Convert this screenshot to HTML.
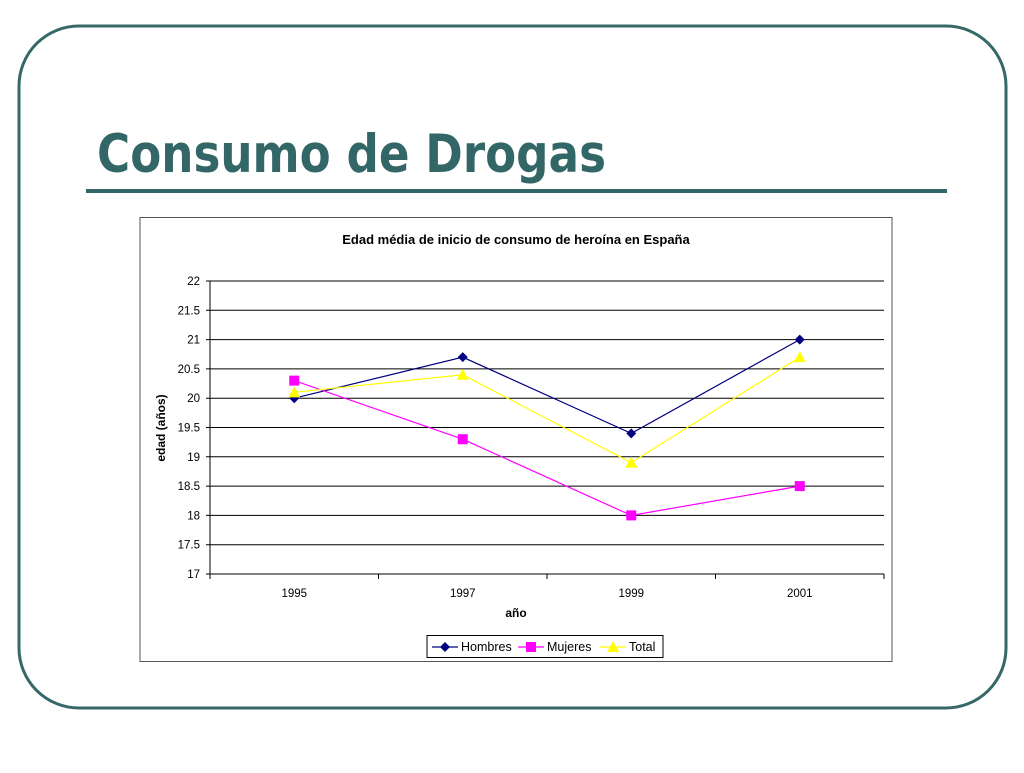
<!DOCTYPE html>
<html><head><meta charset="utf-8"><style>
body{margin:0;width:1024px;height:768px;background:#fff;overflow:hidden;font-family:"Liberation Sans",sans-serif}
</style></head><body>
<svg width="1024" height="768">
<rect x="19" y="26" width="987" height="682" rx="60" fill="none" stroke="#366868" stroke-width="3"/>
<text x="97" y="172" font-size="53" font-weight="bold" fill="#336666" font-family="DejaVu Sans, sans-serif" textLength="509" lengthAdjust="spacingAndGlyphs">Consumo de Drogas</text>
<rect x="86" y="189" width="861" height="4" fill="#336666"/>
<rect x="140" y="217.5" width="752" height="444" fill="#fff" stroke="#555" stroke-width="1"/>
<text x="516" y="244" font-size="13" font-weight="bold" text-anchor="middle">Edad média de inicio de consumo de heroína en España</text>
<g id="plot"></g>
<text x="516" y="617" font-size="12" font-weight="bold" text-anchor="middle">año</text>
<text transform="translate(165,428) rotate(-90)" font-size="12" font-weight="bold" text-anchor="middle">edad (años)</text>
<g>
<rect x="427" y="635.5" width="236" height="22" fill="#fff" stroke="#000"/>
<g id="legend"></g>
</g>
</svg>
<script>
const categories=["1995","1997","1999","2001"];
const hombres=[20,20.7,19.4,21];
const mujeres=[20.3,19.3,18,18.5];
const total=[20.1,20.4,18.9,20.7];
const yTicks=[17,17.5,18,18.5,19,19.5,20,20.5,21,21.5,22];
const L=210,R=884,T=281,B=574,yMin=17,yMax=22;
const NS="http://www.w3.org/2000/svg";
const g=document.getElementById('plot');
function y(v){return B-(v-yMin)/(yMax-yMin)*(B-T);}
function x(i){const w=(R-L)/categories.length;return L+w*(i+0.5);}
function mk(t,a,p){const e=document.createElementNS(NS,t);for(const k in a)e.setAttribute(k,a[k]);(p||g).appendChild(e);return e;}
yTicks.forEach(v=>{
 const l=mk('line',{x1:L-4,x2:R,y1:y(v),y2:y(v),stroke:'#000','stroke-width':1});
 
 
 const t=mk('text',{x:L-10,y:y(v)+4,'font-size':11.5,'text-anchor':'end'});t.textContent=v;
 
 
});
mk('line',{x1:L,x2:L,y1:T,y2:B,stroke:'#000'});
for(let i=0;i<=categories.length;i++){mk('line',{x1:L+(R-L)/categories.length*i,x2:L+(R-L)/categories.length*i,y1:B,y2:B+5,stroke:'#000'});}
categories.forEach((c,i)=>{const t=mk('text',{x:x(i),y:597,'font-size':11.5,'text-anchor':'middle'});t.textContent=c;
 
 });
function marker(type,cx,cy,col,p){
 if(type==='d')return mk('polygon',{points:`${cx},${cy-5} ${cx+5},${cy} ${cx},${cy+5} ${cx-5},${cy}`,fill:col},p);
 if(type==='s')return mk('rect',{x:cx-5,y:cy-5,width:10,height:10,fill:col},p);
 return mk('polygon',{points:`${cx},${cy-6} ${cx+6},${cy+5} ${cx-6},${cy+5}`,fill:col},p);
}
const series=[[hombres,'#000080','d','series-hombres'],[mujeres,'#ff00ff','s','series-mujeres'],[total,'#ffff00','t','series-total']];
series.forEach(([d,col,m,n])=>{
 const pl=mk('polyline',{points:d.map((v,i)=>x(i)+','+y(v)).join(' '),fill:'none',stroke:col,'stroke-width':1.2});
 
 
 d.forEach((v,i)=>{const e=marker(m,x(i),y(v),col);
  
  });
});
const lg=document.getElementById('legend');
const names=['Hombres','Mujeres','Total'];const lx=[432,518,600];
series.forEach(([d,col,m],i)=>{
 mk('line',{x1:lx[i],x2:lx[i]+26,y1:647,y2:647,stroke:col,'stroke-width':1.2},lg);
 marker(m,lx[i]+13,647,col,lg);
 const t=mk('text',{x:lx[i]+29,y:651,'font-size':12.5},lg);t.textContent=names[i];
 
 
});
</script>
</body></html>
